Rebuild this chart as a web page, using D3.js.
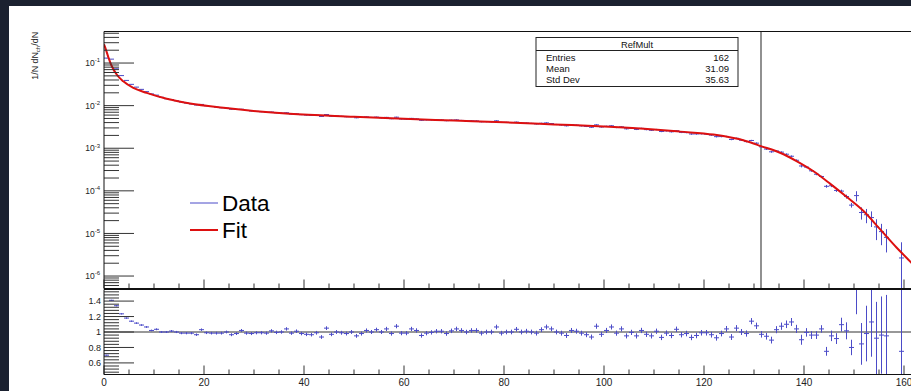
<!DOCTYPE html>
<html>
<head>
<meta charset="utf-8">
<script src="https://cdn.jsdelivr.net/npm/d3@7"></script>
<style>
  html, body { margin: 0; padding: 0; background: #1b2130; overflow: hidden; }
  svg { display: block; }
  text { font-family: "Liberation Sans", Arial, sans-serif; fill: #111; }
</style>
</head>
<body>
<svg id="chart" width="911" height="391"></svg>
<script>
// ---- RefMult distribution: data / fit ratio per unit-width bin (bins 0..159) ----
const ratio = [
  0.70, 1.41, 1.34, 1.235, 1.18, 1.14, 1.115, 1.09, 1.065, 1.02,
  1.035, 1.0, 1.0, 1.012, 1.0, 0.985, 0.985, 0.985, 0.965, 1.03,
  0.99, 0.985, 0.985, 0.985, 1.0, 0.965, 0.98, 1.02, 0.985, 0.98,
  0.99, 0.99, 0.985, 1.015, 0.995, 1.0, 1.04, 0.985, 1.01, 0.98,
  0.97, 0.965, 0.99, 0.935, 1.05, 0.97, 1.0, 0.99, 0.98, 1.0,
  0.95, 0.98, 1.02, 1.0, 1.03, 1.0, 1.04, 0.98, 1.075, 0.985,
  0.985, 1.04, 1.02, 0.955, 0.985, 0.995, 1.01, 1.01, 0.98, 1.015,
  1.04, 1.02, 1.0, 1.02, 1.02, 0.985, 1.0, 1.0, 1.065, 0.985,
  1.0, 1.0, 1.035, 1.0, 1.01, 1.0, 0.985, 1.03, 1.065, 1.04,
  1.0, 0.985, 0.955, 1.02, 1.01, 0.985, 0.965, 0.935, 1.075, 0.97,
  1.02, 1.065, 0.985, 1.04, 0.95, 0.995, 0.95, 1.02, 0.97, 0.95,
  1.01, 0.93, 0.985, 0.955, 1.035, 0.965, 0.98, 0.93, 0.955, 0.99,
  0.99, 0.965, 0.925, 0.98, 1.04, 0.935, 1.05, 1.0, 0.98, 1.14,
  1.08, 0.97, 0.945, 0.895, 1.03, 1.075, 1.10, 1.13, 1.04, 0.90,
  0.995, 0.96, 0.96, 1.04, 0.75, 0.95, 0.915, 1.095, 1.015, 0.80,
  1.68, 0.846, 0.98, 1.13, 0.92, 0.96, 0.95, null, null, 0.75
];
const ratioErr = [
  0.005, 0.007, 0.008, 0.008, 0.009, 0.009, 0.010, 0.010, 0.011, 0.011,
  0.012, 0.012, 0.013, 0.013, 0.014, 0.014, 0.015, 0.015, 0.016, 0.016,
  0.017, 0.017, 0.018, 0.018, 0.018, 0.019, 0.019, 0.019, 0.020, 0.020,
  0.020, 0.021, 0.021, 0.021, 0.022, 0.022, 0.022, 0.022, 0.023, 0.023,
  0.023, 0.023, 0.024, 0.024, 0.024, 0.024, 0.025, 0.025, 0.025, 0.025,
  0.025, 0.026, 0.026, 0.026, 0.026, 0.026, 0.027, 0.027, 0.027, 0.027,
  0.027, 0.027, 0.028, 0.028, 0.028, 0.028, 0.028, 0.028, 0.029, 0.029,
  0.029, 0.029, 0.029, 0.029, 0.029, 0.030, 0.030, 0.030, 0.030, 0.030,
  0.030, 0.030, 0.030, 0.031, 0.031, 0.031, 0.031, 0.031, 0.031, 0.031,
  0.031, 0.032, 0.032, 0.032, 0.032, 0.032, 0.032, 0.032, 0.033, 0.033,
  0.033, 0.033, 0.033, 0.033, 0.033, 0.034, 0.034, 0.034, 0.034, 0.034,
  0.034, 0.035, 0.035, 0.035, 0.035, 0.035, 0.036, 0.036, 0.036, 0.036,
  0.036, 0.037, 0.037, 0.037, 0.038, 0.038, 0.039, 0.039, 0.040, 0.040,
  0.041, 0.042, 0.043, 0.044, 0.046, 0.047, 0.049, 0.051, 0.053, 0.065,
  0.055, 0.050, 0.050, 0.048, 0.057, 0.068, 0.070, 0.090, 0.110, 0.100,
  0.450, 0.270, 0.360, 0.450, 0.470, 0.500, 0.530, null, null, 1.000
];

// Fit function sampled at knots: x and log10(1/N dN/dN)
const fitX   = [0, 0.2, 0.86, 1.54, 2.54, 3.86, 5.86, 8.54, 12.54, 17.2, 23.9, 30.5, 37.1,
                50, 60, 70, 80, 90, 100, 110, 115.2, 121.9, 128.5, 131.4, 135.2, 138.5,
                141.9, 145.2, 148.5, 151.9, 155.2, 158.5, 161.4, 165];
const fitLog = [-0.56, -0.62, -0.86, -1.07, -1.27, -1.43, -1.585, -1.70, -1.84, -1.95, -2.05, -2.13, -2.19,
                -2.26, -2.31, -2.35, -2.39, -2.44, -2.49, -2.56, -2.61, -2.68, -2.835, -2.95, -3.105, -3.30,
                -3.54, -3.83, -4.14, -4.475, -4.90, -5.33, -5.68, -6.15];

const xTickValues = [0, 20, 40, 60, 80, 100, 120, 140, 160];
const decadeExponents = [-6, -5, -4, -3, -2, -1];
const ratioTickValues = [0.6, 0.8, 1, 1.2, 1.4];
const ratioTickLabels = ["0.6", "0.8", "1", "1.2", "1.4"];
const statsTitle = "RefMult";
const statsNames = ["Entries", "Mean", "Std Dev"];
const statsValues = ["162", "31.09", "35.63"];
const legendNames = ["Data", "Fit"];
const cutValue = 131.4;

// ---- layout ----
const svg = d3.select("#chart");
const dataColor = "#4b4bc8";
const fitColor = "#dd1010";
const left = 104;
const topPad = { y0: 31.5, y1: 288.5 };
const lowPad = { y0: 289.5, y1: 374.5 };

svg.append("rect").attr("x", 9).attr("y", 6).attr("width", 902).attr("height", 385).attr("fill", "#ffffff");

const x = d3.scaleLinear().domain([0, 165]).range([left, left + 825]);
const yTop = d3.scaleLog().domain([5.1e-7, 0.55]).range([topPad.y1, topPad.y0]);
const yLow = d3.scaleLinear().domain([0.45, 1.55]).range([lowPad.y1, lowPad.y0]);
const fitInterp = d3.scaleLinear().domain(fitX).range(fitLog).clamp(true);

const defs = svg.append("defs");
defs.append("clipPath").attr("id", "clipTop").append("rect")
  .attr("x", left).attr("y", topPad.y0).attr("width", 900).attr("height", topPad.y1 - topPad.y0);
defs.append("clipPath").attr("id", "clipLow").append("rect")
  .attr("x", left).attr("y", lowPad.y0).attr("width", 900).attr("height", lowPad.y1 - lowPad.y0);

// bins: ratio r, fit at centre, data = r * fit
const bins = ratio.map((r, i) => {
  if (r === null) return null;
  const xc = i + 0.5;
  const f = Math.pow(10, fitInterp(xc));
  return { i, x0: i, x1: i + 1, xc, r, e: ratioErr[i], data: r * f, dataErr: ratioErr[i] * f };
}).filter(d => d);

// ---- upper pad ----
const gTop = svg.append("g");
const gTopClip = gTop.append("g").attr("clip-path", "url(#clipTop)");

// cut line
gTopClip.append("line")
  .attr("x1", x(cutValue)).attr("x2", x(cutValue))
  .attr("y1", topPad.y0).attr("y2", topPad.y1)
  .attr("stroke", "#555").attr("stroke-width", 1.3);

// data points with error bars
const dTop = gTopClip.append("g").attr("stroke", dataColor).attr("stroke-width", 1);
bins.forEach(d => {
  dTop.append("line").attr("x1", x(d.x0)).attr("x2", x(d.x1))
    .attr("y1", yTop(d.data)).attr("y2", yTop(d.data));
  const lo = d.data - d.dataErr;
  dTop.append("line").attr("x1", x(d.xc)).attr("x2", x(d.xc))
    .attr("y1", yTop(d.data + d.dataErr))
    .attr("y2", lo > 0 ? yTop(lo) : topPad.y1 + 2);
});

// fit curve
const fitPts = fitX.map((v, k) => [v, fitLog[k]]);
gTopClip.append("path")
  .attr("d", d3.line().x(p => x(p[0])).y(p => yTop(Math.pow(10, p[1]))).curve(d3.curveMonotoneX)(fitPts))
  .attr("fill", "none").attr("stroke", fitColor).attr("stroke-width", 2);

// y axis ticks (log) on upper pad
const gTicks = gTop.append("g").attr("stroke", "#333").attr("stroke-width", 1);
decadeExponents.forEach(p => {
  for (let k = 1; k <= 9; k++) {
    const v = k * Math.pow(10, p);
    if (v < yTop.domain()[0] || v > yTop.domain()[1]) continue;
    const yy = yTop(v);
    gTicks.append("line").attr("x1", left).attr("x2", left + (k === 1 ? 30 : 15))
      .attr("y1", yy).attr("y2", yy);
  }
});
for (let k = 2; k <= 9; k++) {
  const v = k * 1e-7;
  if (v >= yTop.domain()[0]) {
    gTicks.append("line").attr("x1", left).attr("x2", left + 15).attr("y1", yTop(v)).attr("y2", yTop(v));
  }
}
// decade labels
decadeExponents.forEach(p => {
  const t = gTop.append("text").attr("x", 100).attr("y", yTop(Math.pow(10, p)) + 3.2)
    .attr("text-anchor", "end").attr("font-size", 8.5).style("fill", "#222");
  t.append("tspan").text("10");
  t.append("tspan").attr("dy", -3.8).attr("font-size", 6).text(String(p));
});

// x ticks on the upper pad's lower edge
for (let v = 0; v <= 165; v += 5) {
  const major = v % 20 === 0;
  gTicks.append("line").attr("x1", x(v)).attr("x2", x(v))
    .attr("y1", topPad.y1).attr("y2", topPad.y1 - (major ? 9 : 5));
}

// frame
gTop.append("path")
  .attr("d", `M${x(165)},${topPad.y0}H${left}V${topPad.y1}H${x(165)}`)
  .attr("fill", "none").attr("stroke", "#111").attr("stroke-width", 1);

// y title
svg.append("text")
  .attr("transform", `translate(38,32) rotate(-90)`)
  .attr("text-anchor", "end").attr("font-size", 8.8).style("fill", "#222")
  .call(t => {
    t.append("tspan").text("1/N dN");
    t.append("tspan").attr("dy", 2).attr("font-size", 6.2).text("ch");
    t.append("tspan").attr("dy", -2).text("/dN");
  });

// stats box
const sb = { x0: 536, x1: 738, y0: 37.5, y1: 86.5 };
const gStats = svg.append("g");
gStats.append("rect").attr("x", sb.x0).attr("y", sb.y0).attr("width", sb.x1 - sb.x0).attr("height", sb.y1 - sb.y0)
  .attr("fill", "#fff").attr("stroke", "#222").attr("stroke-width", 1);
gStats.append("line").attr("x1", sb.x0).attr("x2", sb.x1).attr("y1", 50.5).attr("y2", 50.5)
  .attr("stroke", "#222").attr("stroke-width", 1);
gStats.append("text").attr("x", (sb.x0 + sb.x1) / 2).attr("y", 47.5).attr("text-anchor", "middle")
  .attr("font-size", 9.3).text(statsTitle);
statsNames.forEach((n, k) => {
  const yy = 60.5 + k * 11;
  gStats.append("text").attr("x", 546).attr("y", yy).attr("font-size", 9.5).text(n);
  gStats.append("text").attr("x", 729).attr("y", yy).attr("font-size", 9.5).attr("text-anchor", "end").text(statsValues[k]);
});

// legend
const legendColors = [dataColor, fitColor];
const legendWidths = [1, 2];
legendNames.forEach((n, k) => {
  const yy = 203 + k * 27;
  svg.append("line").attr("x1", 190).attr("x2", 218).attr("y1", yy).attr("y2", yy)
    .attr("stroke", legendColors[k]).attr("stroke-width", legendWidths[k]);
  svg.append("text").attr("x", 222).attr("y", yy + 7.8).attr("font-size", 22.5).style("fill", "#000").text(n);
});

// ---- lower pad (ratio) ----
const gLow = svg.append("g");
const gLowClip = gLow.append("g").attr("clip-path", "url(#clipLow)");
gLowClip.append("line").attr("x1", left).attr("x2", 911).attr("y1", yLow(1)).attr("y2", yLow(1))
  .attr("stroke", "#333").attr("stroke-width", 1.2);

const dLow = gLowClip.append("g").attr("stroke", dataColor).attr("stroke-width", 1);
bins.forEach(d => {
  dLow.append("line").attr("x1", x(d.x0)).attr("x2", x(d.x1)).attr("y1", yLow(d.r)).attr("y2", yLow(d.r));
  dLow.append("line").attr("x1", x(d.xc)).attr("x2", x(d.xc))
    .attr("y1", yLow(d.r + d.e)).attr("y2", yLow(d.r - d.e));
});

const gLowTicks = gLow.append("g").attr("stroke", "#333").attr("stroke-width", 1);
for (let k = 0; k <= 27; k++) {
  const v = 0.48 + k * 0.04;
  if (v > 1.55) break;
  const major = Math.abs(((v - 0.2) / 0.2) - Math.round((v - 0.2) / 0.2)) < 1e-6;
  gLowTicks.append("line").attr("x1", left).attr("x2", left + (major ? 30 : 15))
    .attr("y1", yLow(v)).attr("y2", yLow(v));
}
ratioTickValues.forEach((v, k) => {
  gLow.append("text").attr("x", 101).attr("y", yLow(v) + 3.2).attr("text-anchor", "end")
    .attr("font-size", 9).style("fill", "#222").text(ratioTickLabels[k]);
});
for (let v = 0; v <= 165; v += 5) {
  const major = v % 20 === 0;
  gLowTicks.append("line").attr("x1", x(v)).attr("x2", x(v))
    .attr("y1", lowPad.y1).attr("y2", lowPad.y1 - (major ? 9 : 5));
}
xTickValues.forEach(v => {
  gLow.append("text").attr("x", x(v)).attr("y", 386).attr("text-anchor", "middle")
    .attr("font-size", 10).style("fill", "#222").text(v);
});
gLow.append("path")
  .attr("d", `M${x(165)},${lowPad.y0}H${left}V${lowPad.y1}H${x(165)}`)
  .attr("fill", "none").attr("stroke", "#111").attr("stroke-width", 1);
</script>
</body>
</html>
